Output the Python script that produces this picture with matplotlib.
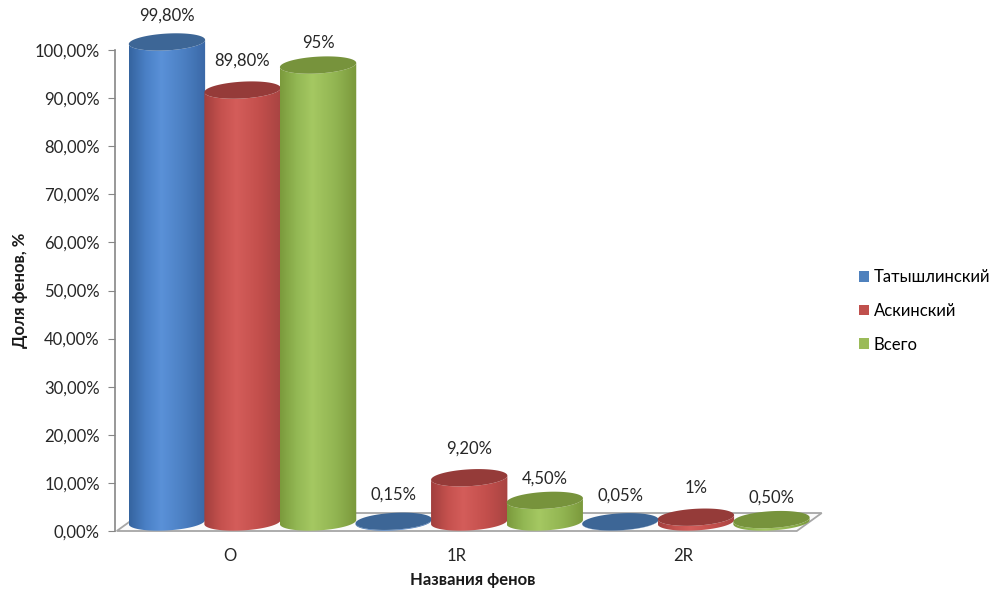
import numpy as np
import matplotlib
matplotlib.use("Agg")
import matplotlib.pyplot as plt
from matplotlib.patches import Polygon, Patch
from matplotlib.colors import LinearSegmentedColormap
from matplotlib.ticker import FuncFormatter

# ---------------- data ----------------
categories = ["O", "1R", "2R"]
series_names = ["Татышлинский", "Аскинский", "Всего"]
tatyshly = [99.8, 0.15, 0.05]
askino = [89.8, 9.2, 1.0]
total = [95.0, 4.5, 0.5]
value_labels = [["99,80%", "0,15%", "0,05%"],
                ["89,80%", "9,20%", "1%"],
                ["95%", "4,50%", "0,50%"]]
y_ticks = [0, 10, 20, 30, 40, 50, 60, 70, 80, 90, 100]

series = [tatyshly, askino, total]

# ---------------- style ----------------
plt.rcParams['font.family'] = ['Lato', 'DejaVu Sans']
body_stops = [
    ["#35649f", "#4a80c6", "#5a91d8", "#4b7fc2", "#3a68a6"],
    ["#a13f3d", "#c5514e", "#d45d5a", "#c34f4c", "#a84442"],
    ["#7b9a3c", "#93b854", "#a5c862", "#92b552", "#7a983b"],
]
top_colors = ["#3d6696", "#953b39", "#77933c"]
legend_colors = ["#4f81bd", "#c0504d", "#9bbb59"]
label_offsets_pt = [19, 21, 16]
FS = 12

fig = plt.figure(figsize=(9.89, 5.89), dpi=100)
ax = fig.add_axes([115 / 989, (589 - 531) / 589, (830 - 115) / 989, (531 - 50) / 589])
ax.set_xlim(-0.5625, 2.5915)
ax.set_ylim(0, 100)

bar_w = 1 / 3
a = bar_w / 2 * 1.01          # ellipse half-width (data x)
b = 1.75                      # ellipse half-height (data y)
k = 2.6                       # perspective shear
base = 1.87                   # cylinders stand mid-depth on floor
dx_depth = 0.055

# floor
floor = Polygon([(-0.5 - dx_depth, 0), (2.5 - dx_depth, 0),
                 (2.5 + dx_depth, 2 * base), (-0.5 + dx_depth, 2 * base)],
                closed=True, facecolor="#fbfbfb", edgecolor="#a6a6a6",
                lw=1.3, zorder=1, clip_on=False)
ax.add_patch(floor)

t_low = np.linspace(np.pi, 2 * np.pi, 60)
t_all = np.linspace(0, 2 * np.pi, 120)
z = 2
for gi in range(len(categories)):
    for si, vals in enumerate(series):
        v = vals[gi]
        xc = gi + (si - 1) * bar_w
        top = base + v
        # body polygon
        bx = xc + a * np.cos(t_low)
        by_bot = base + b * np.sin(t_low) + k * a * np.cos(t_low)
        by_top = top + b * np.sin(t_low) + k * a * np.cos(t_low)
        pts = np.vstack([np.column_stack([bx, by_bot]),
                         np.column_stack([bx[::-1], by_top[::-1]])])
        body = Polygon(pts, closed=True, facecolor="none", edgecolor="none",
                       zorder=z, clip_on=False)
        ax.add_patch(body)
        cmap = LinearSegmentedColormap.from_list(
            "c%d" % si, list(zip([0, 0.22, 0.42, 0.72, 1.0], body_stops[si])))
        grad = np.linspace(0, 1, 256).reshape(1, -1)
        im = ax.imshow(grad, cmap=cmap, aspect="auto",
                       extent=(xc - a, xc + a, base - b - k * a, top + b + k * a),
                       zorder=z, interpolation="bilinear")
        im.set_clip_path(body)
        im.set_clip_box(fig.bbox)
        # top ellipse
        ex = xc + a * np.cos(t_all)
        ey = top + b * np.sin(t_all) + k * a * np.cos(t_all)
        ax.add_patch(Polygon(np.column_stack([ex, ey]), closed=True,
                             facecolor=top_colors[si], edgecolor="none",
                             zorder=z + 0.5, clip_on=False))
        z += 1
        ax.annotate(value_labels[si][gi], (xc, top), xytext=(0, label_offsets_pt[si]),
                    textcoords="offset points", ha="center", va="center",
                    fontsize=FS, color="#262626", zorder=50, annotation_clip=False)

ax.set_xlim(-0.5625, 2.5915)
ax.set_ylim(0, 100)

# axes styling
for s in ["top", "right", "bottom"]:
    ax.spines[s].set_visible(False)
ax.spines["left"].set_color("#868686")
ax.spines["left"].set_linewidth(1.2)
ax.set_yticks(y_ticks)
ax.yaxis.set_major_formatter(FuncFormatter(lambda v, p: ("%.2f%%" % v).replace(".", ",")))
ax.tick_params(axis="y", direction="out", length=5, color="#868686", labelsize=FS,
               labelcolor="#262626", pad=6)
ax.set_xticks([i - dx_depth for i in range(len(categories))])
ax.set_xticklabels(categories)
ax.tick_params(axis="x", length=0, labelsize=FS, labelcolor="#262626", pad=12)
ax.set_xlabel("Названия фенов", fontsize=FS, fontweight="bold", labelpad=6, color="#1a1a1a")
ax.set_ylabel("Доля фенов, %", fontsize=FS, fontweight="bold", labelpad=5, color="#1a1a1a")
ax.patch.set_visible(False)

handles = [Patch(facecolor=c, edgecolor="none") for c in legend_colors]
fig.legend(handles, series_names, loc="center left", bbox_to_anchor=(852 / 989, 1 - 311 / 589),
           frameon=False, fontsize=FS, handlelength=0.6, handleheight=0.6,
           handletextpad=0.3, labelspacing=1.05, borderaxespad=0)

fig.savefig("out.png", dpi=100)
